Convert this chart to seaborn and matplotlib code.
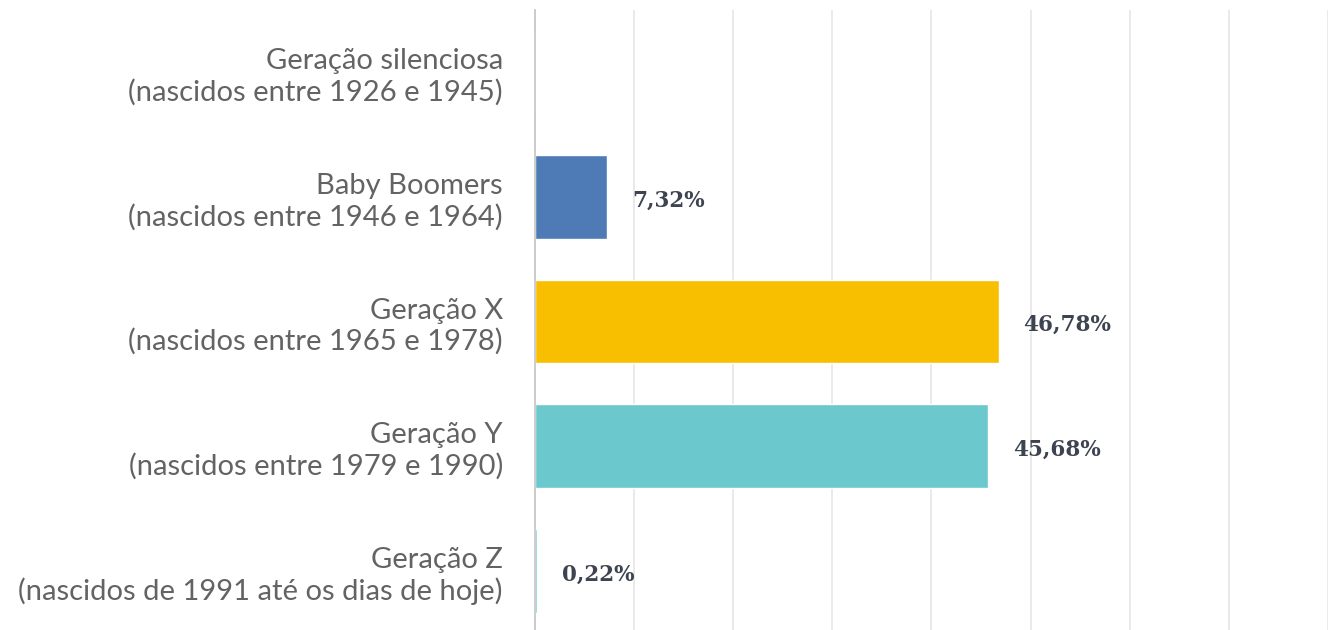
import pandas as pd
import numpy as np
import seaborn as sns
import matplotlib.pyplot as plt

geracoes = ['Geração silenciosa\n(nascidos entre 1926 e 1945)',
            'Baby Boomers\n(nascidos entre 1946 e 1964)',
            'Geração X\n(nascidos entre 1965 e 1978)',
            'Geração Y\n(nascidos entre 1979 e 1990)',
            'Geração Z\n(nascidos de 1991 até os dias de hoje)']
percentuais = [0.0, 7.32, 46.78, 45.68, 0.22]
rotulos = ['', '7,32%', '46,78%', '45,68%', '0,22%']
cores = ['#4e7ab5', '#4e7ab5', '#f8bf00', '#6bc8cc', '#6bc8cc']

df = pd.DataFrame({'geracao': geracoes, 'pct': percentuais})

sns.set_style('white')
fig = plt.figure(figsize=(13.44, 6.3), dpi=100)
ax = fig.add_axes([0.398, -0.005, 0.590, 0.989])

sns.barplot(data=df, y='geracao', x='pct', hue='geracao', palette=cores,
            orient='h', width=0.67, saturation=1, legend=False, ax=ax)

ax.set_xlim(0, 80)
ax.set_ylim(4.5, -0.5)
ax.set_xticks(np.arange(0, 81, 10))
ax.xaxis.grid(True, color='#e8e8e8', linewidth=1.3)
ax.set_axisbelow(True)
ax.tick_params(axis='x', labelbottom=False, length=0)
ax.tick_params(axis='y', length=0, pad=23)
ax.set_xlabel('')
ax.set_ylabel('')
for lab in ax.get_yticklabels():
    lab.set_fontfamily(['Lato', 'DejaVu Sans'])
    lab.set_fontsize(21)
    lab.set_color('#636363')
    lab.set_linespacing(1.2)

for s in ['top', 'right', 'bottom']:
    ax.spines[s].set_visible(False)
ax.spines['left'].set_color('#c8c8c8')
ax.spines['left'].set_linewidth(1.3)

for i, (v, t) in enumerate(zip(percentuais, rotulos)):
    if t:
        ax.annotate(t, xy=(v, i), xytext=(18, -2.5), textcoords='offset points',
                    ha='left', va='center', fontsize=15.5, fontweight='bold',
                    family=['DejaVu Serif'], color='#3d4350')

fig.savefig('out.png', dpi=100)
